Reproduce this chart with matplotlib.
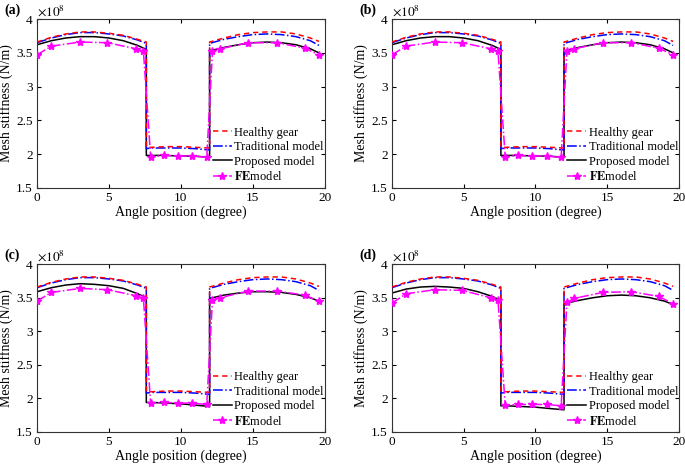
import matplotlib
matplotlib.use('agg')
import matplotlib.pyplot as plt
from matplotlib.ticker import FuncFormatter

plt.rcParams['font.family'] = ['Liberation Serif', 'DejaVu Serif']
plt.rcParams['mathtext.fontset'] = 'stix'

# angle grid (degree) for the model curves, split at the two jumps
x_seg1 = [0, 1, 2, 3, 4, 5, 6, 7, 7.6]
x_mid = [7.6, 8, 9, 10, 11, 12]
x_seg3 = [12, 13, 14, 15, 16, 17, 18, 19, 19.6]
x_curve = x_seg1 + x_mid + x_seg3

# mesh stiffness in 1e8 N/m
healthy = [3.66, 3.73, 3.78, 3.81, 3.81, 3.79, 3.76, 3.70, 3.66,
           2.10, 2.10, 2.11, 2.11, 2.10, 2.09,
           3.66, 3.72, 3.77, 3.80, 3.81, 3.81, 3.78, 3.72, 3.67]
traditional = [3.65, 3.72, 3.77, 3.80, 3.80, 3.78, 3.75, 3.69, 3.64,
               2.08, 2.09, 2.09, 2.09, 2.08, 2.06,
               3.64, 3.70, 3.74, 3.77, 3.78, 3.77, 3.74, 3.68, 3.61]
proposed_a = [3.62, 3.68, 3.72, 3.74, 3.74, 3.72, 3.68, 3.61, 3.55,
              1.98, 1.98, 1.98, 1.97, 1.97, 1.95,
              3.53, 3.58, 3.62, 3.65, 3.66, 3.65, 3.62, 3.56, 3.50]
proposed_c = [3.59, 3.65, 3.69, 3.71, 3.70, 3.68, 3.64, 3.56, 3.50,
              1.94, 1.94, 1.93, 1.92, 1.90, 1.88,
              3.49, 3.54, 3.57, 3.59, 3.59, 3.58, 3.55, 3.50, 3.45]
proposed_d = [3.57, 3.63, 3.66, 3.67, 3.66, 3.64, 3.59, 3.52, 3.46,
              1.89, 1.89, 1.88, 1.87, 1.85, 1.83,
              3.41, 3.46, 3.50, 3.53, 3.54, 3.53, 3.50, 3.45, 3.40]

# FE sample points
x_fe = [0, 1, 3, 4.9, 6.9, 7.4, 7.9, 8.8, 9.8, 10.8, 11.8, 12.2, 12.7, 14.7, 16.7, 18.6, 19.6]
fe_a = [3.47, 3.60, 3.66, 3.65, 3.56, 3.52, 1.96, 1.98, 1.97, 1.97, 1.95, 3.52, 3.56, 3.65, 3.65, 3.57, 3.47]
fe_c = [3.45, 3.58, 3.64, 3.62, 3.53, 3.49, 1.93, 1.94, 1.93, 1.93, 1.91, 3.47, 3.50, 3.60, 3.60, 3.54, 3.45]
fe_d = [3.42, 3.56, 3.62, 3.61, 3.50, 3.46, 1.90, 1.91, 1.91, 1.91, 1.89, 3.43, 3.49, 3.58, 3.59, 3.52, 3.41]

panels = [
    ('(a)', [0.054, 0.597, 0.420, 0.362], proposed_a, fe_a),
    ('(b)', [0.572, 0.597, 0.419, 0.362], proposed_a, fe_a),
    ('(c)', [0.054, 0.073, 0.420, 0.360], proposed_c, fe_c),
    ('(d)', [0.572, 0.073, 0.419, 0.360], proposed_d, fe_d),
]

fig = plt.figure(figsize=(6.85, 4.66), dpi=100)

for tag, pos, prop, fe in panels:
    ax = fig.add_axes(pos)
    ax.plot(x_curve, traditional, color='blue', ls='-.', lw=1.1, label='Traditional model', zorder=3)
    ax.plot(x_curve, healthy, color='red', ls=(0, (3.5, 2.5)), lw=1.1, label='Healthy gear', zorder=4)
    ax.plot(x_curve, prop, color='black', ls='-', lw=1.1, label='Proposed model', zorder=2)
    ax.plot(x_fe, fe, color='magenta', ls='-.', lw=1.1, marker='*', ms=6,
            label=r'$\mathbf{FE}$model', zorder=5)

    ax.set_xlim(0, 20)
    ax.set_ylim(1.5, 4)
    ax.set_xticks([0, 5, 10, 15, 20])
    ax.set_yticks([1.5, 2, 2.5, 3, 3.5, 4])
    ax.yaxis.set_major_formatter(FuncFormatter(lambda v, p: '%g' % v))
    ax.tick_params(direction='in', top=True, right=True, labelsize=9.5, length=3, pad=3)
    for s in ax.spines.values():
        s.set_color('#333333')
        s.set_linewidth(0.8)
    ax.set_xlabel('Angle position (degree)', fontsize=10, labelpad=1)
    ax.set_ylabel('Mesh stiffness (N/m)', fontsize=10, labelpad=2)
    ax.text(0.0, 1.005, r'$\times 10^8$', transform=ax.transAxes, fontsize=9.5,
            ha='left', va='bottom')

    h, l = ax.get_legend_handles_labels()
    order = [1, 0, 2, 3]
    ax.legend([h[i] for i in order], [l[i] for i in order], loc='upper left',
              bbox_to_anchor=(0.59, 0.40), frameon=False, fontsize=9,
              handlelength=1.5, handletextpad=0.2, labelspacing=0.2, borderpad=0)

    fig.text(pos[0] - 0.047, pos[1] + pos[3] + 0.005, tag, fontsize=10,
             fontweight='bold', ha='left', va='bottom')

fig.savefig('out.png', dpi=100)
